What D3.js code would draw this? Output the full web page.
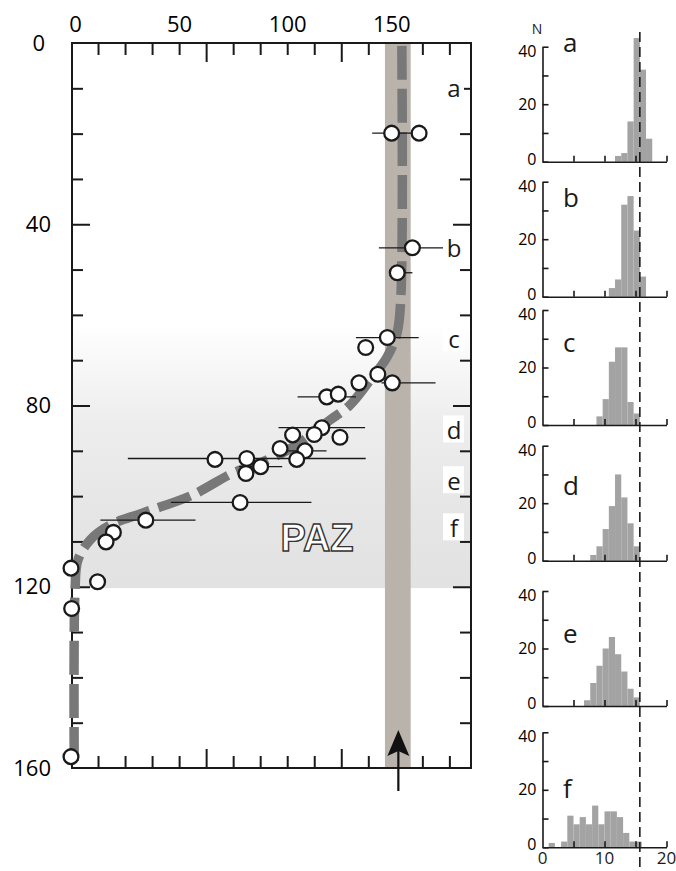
<!DOCTYPE html>
<html>
<head>
<meta charset="utf-8">
<script src="https://cdnjs.cloudflare.com/ajax/libs/d3/7.8.5/d3.min.js"></script>
<style>
  body { margin: 0; background: #fff; }
  svg { display: block; font-family: "Open Sans", sans-serif; }
</style>
</head>
<body>
<script>
// values

// main plot: x = age, y = depth
var ageLabels = [0, 50, 100, 150];
var ageTicks = [12.5, 25, 37.5, 50, 75, 87.5, 100, 112.5, 137.5, 150, 162.5, 175];
var ageLongTicks = [62.5, 125];
var depthLabels = [0, 40, 80, 120, 160];
var depthTicks = [10, 20, 30, 50, 60, 70, 90, 100, 110, 130, 140, 150];
var depthLongTicks = [40, 80, 120];

// samples with error bars
var pointAge = [148.3, 161, 157.9, 150.9, 146.3, 136.3, 141.9, 148.6, 133.2, 118.3, 123.6, 116, 112.5, 124.4, 102.5,
                96.7, 108.2, 104.4, 66.6, 81.3, 80.9, 87.7, 78.2, 34.6, 19.6, 16.2, 0, 12.3, 0.3, 0];
var pointDepth = [19.9, 19.9, 45.2, 50.7, 65, 67.2, 73.1, 75, 75, 78.1, 77.5, 84.9, 86.4, 87, 86.5,
                  89.5, 90, 91.9, 91.9, 91.7, 95, 93.5, 101.4, 105.3, 108, 110.1, 115.9, 118.9, 124.8, 157.5];
var errLow = [9, 0, 15.5, 0, 14.5, 0, 0, 5, 0, 13.5, 0, 20, 0, 0, 0,
              0, 10, 0, 0, 55, 0, 10, 32, 21, 0, 0, 0, 0, 0, 0];
var errHigh = [9, 0, 15.5, 7, 14.5, 0, 0, 20, 0, 13.5, 0, 20, 0, 0, 0,
               0, 10, 0, 0, 55, 0, 10, 33, 23, 0, 0, 0, 0, 0, 0];

// model curve
var curveAge = [153, 152.6, 150.8, 146.2, 138.3, 129, 119.8, 113.8, 102.7, 87.4, 74.9, 56, 33.3, 18, 8.8, 3.2, 1.9, 1.5];
var curveDepth = [0, 55.6, 64, 69.3, 74.4, 79.9, 83.2, 85.4, 89.2, 92.7, 94.9, 99.8, 103.7, 106.4, 109.7, 114.1, 120.3, 160];

// other features
var bandAge = [145.2, 157.1];
var arrowAge = 151.4;
var pazDepth = [62, 120.3];
var sampleNames = ["a", "b", "c", "d", "e", "f"];
var sampleDepth = [11.9, 47.2, 67.4, 87.5, 98.7, 109.1];

// histograms (bin width 1)
var histStart = [11.7, 10.7, 8.7, 7.7, 6.7, 1];
var histA = [2, 3, 14, 43, 32, 8];
var histB = [3, 6, 32, 35, 23, 7];
var histC = [3, 9, 22, 27, 27, 8, 4];
var histD = [2, 5, 11, 19, 30, 22, 13, 5];
var histE = [2, 8, 14, 20, 24, 18, 12, 6, 3];
var histF = [1.5, 0, 2, 11, 8, 10.5, 8, 14.5, 8, 12.5, 12.5, 10.5, 5, 2, 2];
var histCounts = [histA, histB, histC, histD, histE, histF];
var histLine = 15.7;
var letterLevel = [38.2, 31.1, 25.3, 22.8, 21.9, 17.1];

// layout
var panelBase = [161.7, 296.7, 425, 560.7, 706, 847.3];
var panelHeight = 115;
var ink = "#1a1a1a";

var svg = d3.select("body")
  .append("svg")
  .attr("width", 676)
  .attr("height", 871);

var x = d3.scaleLinear().domain([0, 185]).range([71, 471]);
var y = d3.scaleLinear().domain([0, 160]).range([43, 768]);

var frameLeft = 72, frameRight = 471, frameTop = 43, frameBottom = 768;

// PAZ shading
var grad = svg.append("defs").append("linearGradient")
  .attr("id", "paz")
  .attr("gradientUnits", "userSpaceOnUse")
  .attr("x1", 0).attr("x2", 0)
  .attr("y1", y(pazDepth[0])).attr("y2", y(pazDepth[1]));
grad.append("stop").attr("offset", 0).attr("stop-color", "#ffffff");
grad.append("stop").attr("offset", 0.35).attr("stop-color", "#eeeeee");
grad.append("stop").attr("offset", 0.7).attr("stop-color", "#e6e6e6");
grad.append("stop").attr("offset", 1).attr("stop-color", "#e2e2e2");

svg.append("rect")
  .attr("x", frameLeft)
  .attr("y", y(pazDepth[0]))
  .attr("width", frameRight - frameLeft)
  .attr("height", y(pazDepth[1]) - y(pazDepth[0]))
  .attr("fill", "url(#paz)");

// ticks, drawn inward from every side of the frame
function tickAxis(axis, pos, values, size) {
  var g = svg.append("g")
    .attr("transform", "translate(" + pos + ")")
    .call(axis.tickValues(values).tickSize(-size).tickSizeOuter(0).tickFormat(""));
  g.select(".domain").remove();
  g.selectAll("line").attr("stroke", ink).attr("stroke-width", 2);
}
tickAxis(d3.axisTop(x), [0, frameTop], ageTicks, 12);
tickAxis(d3.axisTop(x), [0, frameTop], ageLongTicks, 19);
tickAxis(d3.axisBottom(x), [0, frameBottom], ageTicks, 12);
tickAxis(d3.axisBottom(x), [0, frameBottom], ageLongTicks, 19);
tickAxis(d3.axisLeft(y), [frameLeft, 0], depthTicks, 11);
tickAxis(d3.axisLeft(y), [frameLeft, 0], depthLongTicks, 18);
tickAxis(d3.axisRight(y), [frameRight, 0], depthTicks, 11);
tickAxis(d3.axisRight(y), [frameRight, 0], depthLongTicks, 18);

// tick labels
var topLabels = svg.append("g")
  .attr("transform", "translate(0," + frameTop + ")")
  .call(d3.axisTop(x).tickValues(ageLabels).tickSize(0).tickPadding(11));
topLabels.select(".domain").remove();
topLabels.attr("font-family", "Open Sans").attr("font-size", 22);
topLabels.selectAll("text").attr("dx", function(d) { return d === 0 ? 4 : d === 150 ? -4 : 0; });

var leftLabels = svg.append("g")
  .attr("transform", "translate(" + frameLeft + ",0)")
  .call(d3.axisLeft(y).tickValues(depthLabels).tickSize(0).tickPadding(21));
leftLabels.select(".domain").remove();
leftLabels.attr("font-family", "Open Sans").attr("font-size", 22);
leftLabels.selectAll("text").attr("dx", function(d) { return d === 0 ? -6 : 0; });

// grey band
svg.append("rect")
  .attr("x", x(bandAge[0]))
  .attr("y", frameTop)
  .attr("width", x(bandAge[1]) - x(bandAge[0]))
  .attr("height", frameBottom - frameTop)
  .attr("fill", "#b9b3ac");

// frame
svg.append("rect")
  .attr("x", frameLeft)
  .attr("y", frameTop)
  .attr("width", frameRight - frameLeft)
  .attr("height", frameBottom - frameTop)
  .attr("fill", "none")
  .attr("stroke", ink)
  .attr("stroke-width", 2);

// dashed model curve
var line = d3.line()
  .x(function(d) { return x(d[0]); })
  .y(function(d) { return y(d[1]); })
  .curve(d3.curveCatmullRom.alpha(0.5));

svg.append("path")
  .datum(curveAge.map(function(a, i) { return [a, curveDepth[i]]; }))
  .attr("d", line)
  .attr("fill", "none")
  .attr("stroke", "#787878")
  .attr("stroke-width", 9.5)
  .attr("stroke-dasharray", "34,9")
  .attr("stroke-dashoffset", -3);

// error bars
var points = pointAge.map(function(a, i) {
  return {age: a, depth: pointDepth[i], lo: errLow[i], hi: errHigh[i]};
});

svg.selectAll(".err")
  .data(points.filter(function(d) { return d.lo + d.hi > 0; }))
  .enter()
  .append("line")
  .attr("class", "err")
  .attr("x1", function(d) { return x(d.age - d.lo); })
  .attr("x2", function(d) { return x(d.age + d.hi); })
  .attr("y1", function(d) { return y(d.depth); })
  .attr("y2", function(d) { return y(d.depth); })
  .attr("stroke", ink)
  .attr("stroke-width", 1.3);

svg.selectAll(".pt")
  .data(points)
  .enter()
  .append("circle")
  .attr("class", "pt")
  .attr("cx", function(d) { return x(d.age); })
  .attr("cy", function(d) { return y(d.depth); })
  .attr("r", 7.4)
  .attr("fill", "#fff")
  .attr("stroke", ink)
  .attr("stroke-width", 2.3);

// sample letters in the main plot
var labels = svg.selectAll(".slab")
  .data(sampleNames)
  .enter()
  .append("g")
  .attr("class", "slab");

labels.append("rect")
  .attr("x", 443)
  .attr("y", function(d, i) { return y(sampleDepth[i]) - 24; })
  .attr("width", 21)
  .attr("height", 27)
  .attr("fill", "#fff");

labels.append("text")
  .attr("x", 454)
  .attr("y", function(d, i) { return y(sampleDepth[i]); })
  .attr("text-anchor", "middle")
  .attr("font-size", 24)
  .attr("fill", ink)
  .text(function(d) { return d; });

// PAZ label
svg.append("text")
  .attr("x", 317)
  .attr("y", 551)
  .attr("text-anchor", "middle")
  .attr("font-family", "Liberation Sans, Arial, sans-serif")
  .attr("font-weight", "bold")
  .attr("font-size", 38)
  .attr("fill", "#fff")
  .attr("stroke", "#333")
  .attr("stroke-width", 1.4)
  .text("PAZ");

// arrow under the band
var ax = x(arrowAge);
svg.append("line")
  .attr("x1", ax).attr("x2", ax)
  .attr("y1", 791).attr("y2", 750)
  .attr("stroke", "#111")
  .attr("stroke-width", 2.2);
svg.append("path")
  .attr("d", "M" + ax + ",730 L" + (ax + 11) + ",756 L" + ax + ",751 L" + (ax - 11) + ",756 Z")
  .attr("fill", "#111");

// histograms
var hx = d3.scaleLinear().domain([0, 20]).range([542.5, 666.5]);

histCounts.forEach(function(counts, i) {
  var base = panelBase[i];
  var hy = d3.scaleLinear().domain([0, 40]).range([base, base - panelHeight]);
  var g = svg.append("g");

  g.selectAll("rect")
    .data(counts)
    .enter()
    .append("rect")
    .attr("x", function(d, j) { return hx(histStart[i] + j); })
    .attr("width", hx(1) - hx(0))
    .attr("y", function(d) { return hy(d); })
    .attr("height", function(d) { return base - hy(d); })
    .attr("fill", "#a3a3a3");

  // y axis with inward ticks
  var yAx = g.append("g")
    .attr("transform", "translate(" + hx(0) + ",0)")
    .call(d3.axisLeft(hy).tickValues([0, 10, 20, 30, 40]).tickSize(-6).tickSizeOuter(0).tickPadding(6)
      .tickFormat(function(d) { return d % 20 === 0 ? d : ""; }));
  yAx.attr("font-family", "Open Sans").attr("font-size", 16);
  yAx.selectAll("line, path").attr("stroke", ink).attr("stroke-width", 1.6);
  yAx.selectAll("text").attr("dy", function(d) { return d === 40 ? "0.6em" : d === 0 ? "0.15em" : "0.32em"; });

  // x axis with upward ticks
  var xAx = g.append("g")
    .attr("transform", "translate(0," + base + ")")
    .call(d3.axisBottom(hx).tickValues([5, 10, 15, 20]).tickSize(-6).tickSizeOuter(0).tickFormat(""));
  xAx.selectAll("line, path").attr("stroke", ink).attr("stroke-width", 1.6);

  g.append("text")
    .attr("x", 563)
    .attr("y", hy(letterLevel[i]))
    .attr("font-size", 26)
    .attr("fill", ink)
    .text(sampleNames[i]);

  // bottom panel carries the x labels
  if (i === histCounts.length - 1) {
    g.selectAll(".xl")
      .data([0, 10, 20])
      .enter()
      .append("text")
      .attr("class", "xl")
      .attr("x", function(d) { return hx(d); })
      .attr("y", base + 17)
      .attr("text-anchor", "middle")
      .attr("font-size", 17)
      .attr("fill", ink)
      .text(function(d) { return d; });
  }
  if (i === 0) {
    g.append("text")
      .attr("x", 537)
      .attr("y", 34)
      .attr("text-anchor", "middle")
      .attr("font-size", 14)
      .attr("fill", ink)
      .text("N");
  }
});

// dashed reference line through all histograms
svg.append("line")
  .attr("x1", hx(histLine)).attr("x2", hx(histLine))
  .attr("y1", 32).attr("y2", 871)
  .attr("stroke", ink)
  .attr("stroke-width", 1.6)
  .attr("stroke-dasharray", "10,5");
</script>
</body>
</html>
